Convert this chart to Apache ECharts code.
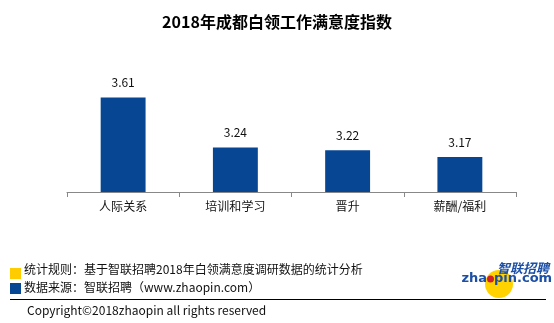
<!DOCTYPE html>
<html><head><meta charset="utf-8">
<script src="https://cdn.jsdelivr.net/npm/echarts@6/dist/echarts.min.js"></script>
<style>html,body{margin:0;padding:0;background:#fff}#c{width:554px;height:323px}</style>
</head><body><div id="c"></div>
<script>
const titleText = '2018年成都白领工作满意度指数';
const categories = ['人际关系', '培训和学习', '晋升', '薪酬/福利'];
const values = [3.61, 3.24, 3.22, 3.17];
const noteLines = ['统计规则：基于智联招聘2018年白领满意度调研数据的统计分析', '数据来源：智联招聘（www.zhaopin.com）'];
const copyright = 'Copyright©2018zhaopin all rights reserved';

const FONT = '"Noto Sans CJK SC", "Microsoft YaHei", sans-serif';
const chart = echarts.init(document.getElementById('c'));
chart.setOption({
  animation: false,
  title: {text: titleText, left: 'center', top: 9,
    textStyle: {fontFamily: FONT, fontSize: 16, fontWeight: 'bold', color: '#000'}},
  grid: {left: 67, right: 38, top: 72, bottom: 131, containLabel: false},
  xAxis: {type: 'category', data: categories,
    axisLine: {lineStyle: {color: '#888', width: 1}},
    axisTick: {show: true, length: 5, lineStyle: {color: '#888'}},
    axisLabel: {margin: 8, fontFamily: FONT, fontSize: 12, color: '#111'}},
  yAxis: {type: 'value', min: 2.91, max: 3.8, show: false, splitLine: {show: false}},
  series: [{type: 'bar', data: values, barWidth: '40%',
    itemStyle: {color: '#064693'},
    label: {show: true, position: 'top', distance: 9, fontFamily: FONT, fontSize: 12, color: '#111',
      formatter: p => p.value.toFixed(2)}}],
  graphic: [
    {type: 'rect', shape: {x: 10, y: 268, width: 11, height: 11}, style: {fill: '#ffcc00'}},
    {type: 'rect', shape: {x: 10, y: 283, width: 11, height: 11}, style: {fill: '#064693'}},
    {type: 'text', x: 24, y: 269, style: {text: noteLines[0], font: '12px ' + FONT, fill: '#111', verticalAlign: 'middle'}},
    {type: 'text', x: 24, y: 287, style: {text: noteLines[1], font: '12px ' + FONT, fill: '#111', verticalAlign: 'middle'}},
    {type: 'line', shape: {x1: 10, y1: 299.5, x2: 546, y2: 299.5}, style: {stroke: '#000', lineWidth: 1}},
    {type: 'text', x: 27, y: 310, style: {text: copyright, font: '12px ' + FONT, fill: '#111', verticalAlign: 'middle'}},
    {type: 'circle', z: 10, shape: {cx: 499, cy: 284, r: 14}, style: {fill: '#ffd200'}},
    {type: 'text', z: 20, x: 549, y: 268, style: {text: '智联招聘', font: 'italic bold 13px ' + FONT, fill: '#1c4fa6', align: 'right', verticalAlign: 'middle'}},
    {type: 'text', z: 20, x: 487, y: 279, style: {text: 'zha', font: 'bold 13px "DejaVu Sans", sans-serif', fill: '#1c4fa6', align: 'right', verticalAlign: 'middle'}},
    {type: 'text', z: 20, x: 494, y: 279, style: {text: 'pin.com', font: 'bold 13px "DejaVu Sans", sans-serif', fill: '#1c4fa6', align: 'left', verticalAlign: 'middle'}},
    {type: 'circle', z: 20, shape: {cx: 490.5, cy: 279, r: 3.5}, style: {fill: '#d0202a'}}
  ]
});
</script></body></html>
